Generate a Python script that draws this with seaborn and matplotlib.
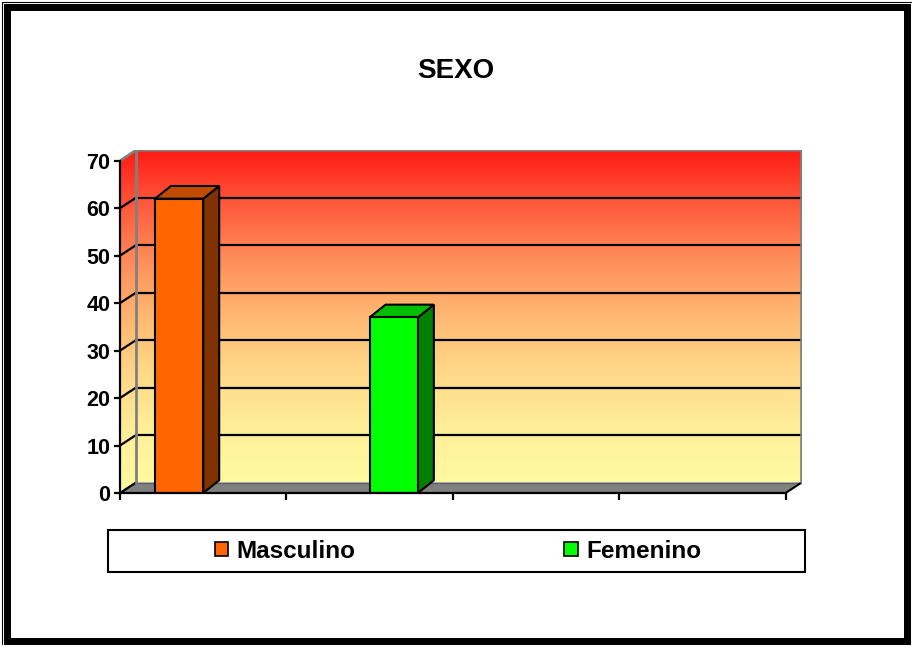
import numpy as np
import pandas as pd
import matplotlib
matplotlib.use("Agg")
import matplotlib.pyplot as plt
import seaborn as sns
from matplotlib.colors import LinearSegmentedColormap
from matplotlib.patches import Polygon, Patch, Rectangle
from matplotlib.lines import Line2D

# === DATA ===
TITLE = "SEXO"
categories = ["1", "2", "3", "4"]          # blank slots on the x axis
series_names = ["Masculino", "Femenino"]
masculino = [62, np.nan, np.nan, np.nan]
femenino = [np.nan, 37, np.nan, np.nan]
y_ticks = [0, 10, 20, 30, 40, 50, 60, 70]

# === STYLE ===
colors = {"Masculino": "#FF6600", "Femenino": "#00FF00"}
top_colors = {"Masculino": "#C04C00", "Femenino": "#00BF00"}
side_colors = {"Masculino": "#803300", "Femenino": "#008000"}
wall_stops = ["#FFFAA0", "#FFEE98", "#FFD888", "#FFB872", "#FF8E5A", "#FF5A3C", "#FF1A14"]

W, H = 913, 647
X_LEFT, Y_ZERO = 120, 493          # front plane origin in pixels
PX_CAT, PX_UNIT = 166.4, 4.747     # pixels per category / per value unit
WALL_DEPTH = (16, 10.5)            # pixel offset of back wall
BAR_DEPTH = (16, 12.7)             # pixel offset of bar back face

sns.set_style("white")
plt.rcParams["font.family"] = ["Liberation Sans", "DejaVu Sans"]
plt.rcParams["font.weight"] = "bold"
for key in ["text.color", "axes.labelcolor", "xtick.color", "ytick.color"]:
    plt.rcParams[key] = "black"

df = pd.DataFrame({"cat": categories, "Masculino": masculino, "Femenino": femenino})
long = df.melt(id_vars="cat", var_name="sexo", value_name="valor")

fig = plt.figure(figsize=(W / 100, H / 100), dpi=100)

x0, x1 = -0.5, len(categories) - 0.5
y_max = y_ticks[-1]
dx, dy = WALL_DEPTH[0] / PX_CAT, WALL_DEPTH[1] / PX_UNIT
bdx, bdy = BAR_DEPTH[0] / PX_CAT, BAR_DEPTH[1] / PX_UNIT

ax_w = (x1 - x0 + dx) * PX_CAT
ax_h = (y_max + dy) * PX_UNIT
ax = fig.add_axes([X_LEFT / W, (H - Y_ZERO) / H, ax_w / W, ax_h / H])
ax.patch.set_visible(False)

# bars (front faces)
sns.barplot(data=long, x="cat", y="valor", hue="sexo", order=categories,
            hue_order=series_names, palette=colors, width=0.58, dodge=True,
            edgecolor="black", linewidth=1.5, saturation=1, legend=False,
            err_kws={"linewidth": 0}, ax=ax, zorder=4)

# 3D faces of the bars
for name, cont in zip(series_names, ax.containers):
    for rect in cont.patches:
        h = rect.get_height()
        if not np.isfinite(h) or h == 0:
            continue
        bx0 = rect.get_x()
        bx1 = bx0 + rect.get_width()
        top = Polygon([(bx0, h), (bx1, h), (bx1 + bdx, h + bdy), (bx0 + bdx, h + bdy)],
                      closed=True, facecolor=top_colors[name], edgecolor="black",
                      linewidth=1.5, zorder=3)
        side = Polygon([(bx1, 0), (bx1 + bdx, bdy), (bx1 + bdx, h + bdy), (bx1, h)],
                       closed=True, facecolor=side_colors[name], edgecolor="black",
                       linewidth=1.5, zorder=3)
        ax.add_patch(side)
        ax.add_patch(top)

# back wall with gradient
cmap = LinearSegmentedColormap.from_list("wall", wall_stops)
grad = np.linspace(0, 1, 256).reshape(-1, 1)
ax.imshow(grad, cmap=cmap, origin="lower", aspect="auto",
          extent=(x0 + dx, x1 + dx, dy, y_max + dy), zorder=0)

# left wall with gradient, clipped to a parallelogram
left_wall = Polygon([(x0, 0), (x0 + dx, dy), (x0 + dx, y_max + dy), (x0, y_max)],
                    closed=True, facecolor="none", edgecolor="none", zorder=0)
ax.add_patch(left_wall)
im = ax.imshow(grad, cmap=cmap, origin="lower", aspect="auto",
               extent=(x0, x0 + dx, 0, y_max + dy), zorder=0)
im.set_clip_path(left_wall)

# floor
floor = Polygon([(x0, 0), (x1, 0), (x1 + dx, dy), (x0 + dx, dy)], closed=True,
                facecolor="#808080", edgecolor="none", zorder=1)
ax.add_patch(floor)
ax.plot([x0 + dx, x1 + dx], [dy, dy], color="#606060", lw=1, zorder=1.1)
ax.plot([x1, x1 + dx], [0, dy], color="black", lw=1.5, zorder=1.1)

# gridlines on back wall and left wall
for v in y_ticks[:-1]:
    if v > 0:
        ax.plot([x0 + dx, x1 + dx], [v + dy, v + dy], color="black", lw=1.6, zorder=1)
    ax.plot([x0, x0 + dx], [v, v + dy], color="black", lw=1.6, zorder=1)

# wall outlines
gray = "#808080"
ax.plot([x0, x0 + dx, x1 + dx, x1 + dx], [y_max, y_max + dy, y_max + dy, dy],
        color=gray, lw=2, zorder=1.2, solid_joinstyle="miter")
ax.plot([x0 + dx, x0 + dx], [dy, y_max + dy], color=gray, lw=2, zorder=1.2)

ax.set_xlim(x0, x1 + dx)
ax.set_ylim(0, y_max + dy)

# axes
for s in ["top", "right"]:
    ax.spines[s].set_visible(False)
for s in ["left", "bottom"]:
    ax.spines[s].set_color("black")
    ax.spines[s].set_linewidth(1.6)
    ax.spines[s].set_zorder(5)
ax.spines["left"].set_bounds(0, y_max)
ax.spines["bottom"].set_bounds(x0, x1)

ax.set_yticks(y_ticks)
ax.set_yticklabels([str(v) for v in y_ticks], fontsize=15.5, fontweight="bold")
ax.set_xticks(np.arange(x0, x1 + 0.01, 1))
ax.set_xticklabels([])
ax.tick_params(axis="y", direction="out", length=4, width=1.6, pad=3, color="black", left=True)
ax.tick_params(axis="x", direction="out", length=5, width=1.6, color="black", bottom=True)
ax.set_xlabel("")
ax.set_ylabel("")

# title
fig.text(456 / W, 1 - 78.5 / H, TITLE, ha="center", va="baseline",
         fontsize=20, fontweight="bold")

# legend with its own box
fig.patches.append(Rectangle((108 / W, 1 - 572 / H), (805 - 108) / W, (572 - 530) / H,
                             transform=fig.transFigure, facecolor="white",
                             edgecolor="black", linewidth=1.5, zorder=1))
handles = [Patch(facecolor=colors[n], edgecolor="black", linewidth=1.2) for n in series_names]
fig.legend(handles, series_names, loc="center", bbox_to_anchor=(458 / W, 1 - 551 / H),
           ncol=2, frameon=False, columnspacing=8.6, handlelength=0.55, handleheight=0.55,
           handletextpad=0.35, prop={"size": 17.5, "weight": "bold"})

# page frame
fig.patches.append(Rectangle((6.5 / W, 6.5 / H), (W - 13) / W, (H - 13) / H,
                             transform=fig.transFigure, facecolor="none",
                             edgecolor="black", linewidth=7 * 0.72, zorder=10))
fig.lines.append(Line2D([1.5 / W, 1.5 / W, 1 - 2 / W], [3 / H, 1 - 1.5 / H, 1 - 1.5 / H],
                        transform=fig.transFigure, color="black", lw=0.8))

fig.savefig("out.png", dpi=100, facecolor="white")
